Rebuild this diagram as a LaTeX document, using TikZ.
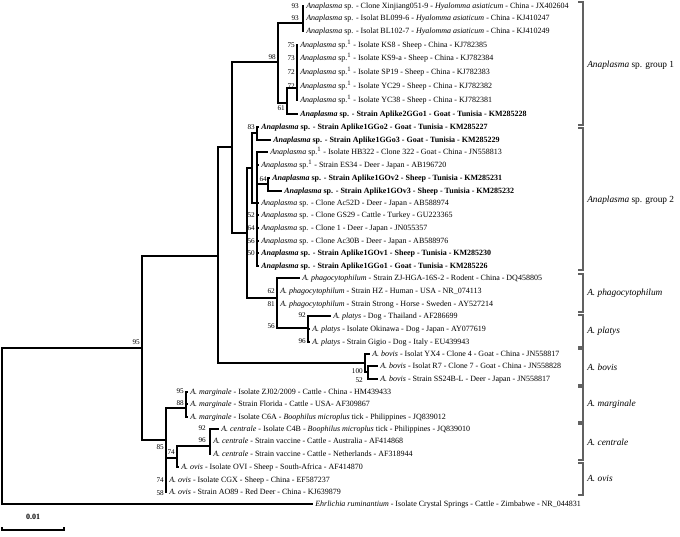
\documentclass[tikz,border=0pt]{standalone}
\usepackage{fontspec}
\setmainfont{Liberation Serif}
\newcommand\taxfont{\fontsize{6.0}{7}\selectfont}
\newcommand\bootfont{\fontsize{5.4}{6}\selectfont}
\newcommand\Ana{\textit{Anaplasma} sp.}
\newcommand\AnaS{\textit{Anaplasma} sp.\textsuperscript{1}}
\newcommand\AnaB{\textbf{\textit{Anaplasma} sp.}}
\tikzset{
  taxon/.style={anchor=west, inner xsep=1.5pt, inner ysep=0pt,
                text height=4.4pt, text depth=0.8pt, font=\taxfont},
  boot/.style={anchor=east, inner sep=0pt, text height=3.8pt,
               text depth=0pt, font=\bootfont},
  branch/.style={line width=0.9pt, draw=black},
  cladebar/.style={line width=1pt, draw=black!62},
  cladename/.style={anchor=west, inner sep=0pt,
                    font=\fontsize{7.0}{8}\selectfont}
}

\begin{document}
\begin{tikzpicture}[x=0.75pt, y=-0.75pt]
  \useasboundingbox (0,0) rectangle (680,536);

  % internal nodes
  \coordinate (r)   at (2,426);
  \coordinate (n95) at (142,348);
  \coordinate (nA)  at (218,256);
  \coordinate (nB)  at (232,147);
  \coordinate (g1)  at (278,62);
  \coordinate (n93) at (303,23);
  \coordinate (n61) at (287,103);
  \coordinate (ks)  at (297,88);
  \coordinate (nC)  at (247,233);
  \coordinate (g2)  at (252,168);
  \coordinate (n83) at (257,133);
  \coordinate (nR)  at (257,203);
  \coordinate (n64) at (268,184);
  \coordinate (P)   at (277,298);
  \coordinate (pl)  at (308,328);
  \coordinate (b1)  at (365,363);
  \coordinate (b2)  at (368,372);
  \coordinate (n85) at (166,440);
  \coordinate (mg)  at (186,408);
  \coordinate (n74) at (177,458);
  \coordinate (ce)  at (210,446);

  % taxa
  \node[taxon] (xinj)  at (304,6)   {\Ana{} - Clone Xinjiang051-9 - \textit{Hyalomma asiaticum} - China - JX402604};
  \node[taxon] (bl099) at (304,18)  {\Ana{} - Isolat BL099-6 - \textit{Hyalomma asiaticum} - China - KJ410247};
  \node[taxon] (bl102) at (304,31)  {\Ana{} - Isolat BL102-7 - \textit{Hyalomma asiaticum} - China - KJ410249};
  \node[taxon] (ks8)   at (298,45)  {\AnaS{} - Isolate KS8 - Sheep - China - KJ782385};
  \node[taxon] (ks9)   at (298,58)  {\AnaS{} - Isolate KS9-a - Sheep - China - KJ782384};
  \node[taxon] (sp19)  at (298,72)  {\AnaS{} - Isolate SP19 - Sheep - China - KJ782383};
  \node[taxon] (yc29)  at (298,86)  {\AnaS{} - Isolate YC29 - Sheep - China - KJ782382};
  \node[taxon] (yc38)  at (298,100) {\AnaS{} - Isolate YC38 - Sheep - China - KJ782381};
  \node[taxon] (agg1)  at (298,114) {\AnaB{} \textbf{- Strain Aplike2GGo1 - Goat - Tunisia - KM285228}};
  \node[taxon] (ggo2)  at (259,127) {\AnaB{} \textbf{- Strain Aplike1GGo2 - Goat - Tunisia - KM285227}};
  \node[taxon] (ggo3)  at (271,140) {\AnaB{} \textbf{- Strain Aplike1GGo3 - Goat - Tunisia - KM285229}};
  \node[taxon] (hb322) at (268,152) {\AnaS{} - Isolate HB322 - Clone 322 - Goat - China - JN558813};
  \node[taxon] (es34)  at (259,165) {\AnaS{} - Strain ES34 - Deer - Japan - AB196720};
  \node[taxon] (gov2)  at (270,178) {\AnaB{} \textbf{- Strain Aplike1GOv2 - Sheep - Tunisia - KM285231}};
  \node[taxon] (gov3)  at (282,191) {\AnaB{} \textbf{- Strain Aplike1GOv3 - Sheep - Tunisia - KM285232}};
  \node[taxon] (ac52)  at (259,203) {\Ana{} - Clone Ac52D - Deer - Japan - AB588974};
  \node[taxon] (gs29)  at (259,215) {\Ana{} - Clone GS29 - Cattle - Turkey - GU223365};
  \node[taxon] (cl1)   at (259,228) {\Ana{} - Clone 1 - Deer - Japan - JN055357};
  \node[taxon] (ac30)  at (259,241) {\Ana{} - Clone Ac30B - Deer - Japan - AB588976};
  \node[taxon] (gov1)  at (259,253) {\AnaB{} \textbf{- Strain Aplike1GOv1 - Sheep - Tunisia - KM285230}};
  \node[taxon] (ggo1)  at (259,266) {\AnaB{} \textbf{- Strain Aplike1GGo1 - Goat - Tunisia - KM285226}};
  \node[taxon] (zjhga) at (300,278) {\textit{A. phagocytophilum} - Strain ZJ-HGA-16S-2 - Rodent - China - DQ458805};
  \node[taxon] (hz)    at (278,291) {\textit{A. phagocytophilum} - Strain HZ - Human - USA - NR\_074113};
  \node[taxon] (strng) at (278,304) {\textit{A. phagocytophilum} - Strain Strong - Horse - Sweden - AY527214};
  \node[taxon] (thai)  at (331,316) {\textit{A. platys} - Dog - Thailand - AF286699};
  \node[taxon] (okin)  at (310,329) {\textit{A. platys} - Isolate Okinawa - Dog - Japan - AY077619};
  \node[taxon] (gigio) at (310,342) {\textit{A. platys} - Strain Gigio - Dog - Italy - EU439943};
  \node[taxon] (yx4)   at (370,354) {\textit{A. bovis} - Isolat YX4 - Clone 4 - Goat - China - JN558817};
  \node[taxon] (r7)    at (378,366) {\textit{A. bovis} - Isolat R7 - Clone 7 - Goat - China - JN558828};
  \node[taxon] (ss24)  at (378,379) {\textit{A. bovis} - Strain SS24B-L - Deer - Japan - JN558817};
  \node[taxon] (zj02)  at (188,392) {\textit{A. marginale} - Isolate ZJ02/2009 - Cattle - China - HM439433};
  \node[taxon] (flor)  at (188,404) {\textit{A. marginale} - Strain Florida - Cattle - USA- AF309867};
  \node[taxon] (c6a)   at (188,417) {\textit{A. marginale} - Isolate C6A - \textit{Boophilus microplus} tick - Philippines - JQ839012};
  \node[taxon] (c4b)   at (219,429) {\textit{A. centrale} - Isolate C4B - \textit{Boophilus microplus} tick - Philippines - JQ839010};
  \node[taxon] (aus)   at (211,441) {\textit{A. centrale} - Strain vaccine - Cattle - Australia - AF414868};
  \node[taxon] (neth)  at (211,454) {\textit{A. centrale} - Strain vaccine - Cattle - Netherlands - AF318944};
  \node[taxon] (ovi)   at (179,467) {\textit{A. ovis} - Isolate OVI - Sheep - South-Africa - AF414870};
  \node[taxon] (cgx)   at (167,480) {\textit{A. ovis} - Isolate CGX - Sheep - China - EF587237};
  \node[taxon] (ao89)  at (167,492) {\textit{A. ovis} - Strain AO89 - Red Deer - China - KJ639879};
  \node[taxon] (ehr)   at (313,504) {\textit{Ehrlichia ruminantium} - Isolate Crystal Springs - Cattle - Zimbabwe - NR\_044831};

  % branches
  \draw[branch] (r) |- (n95) (r) |- (ehr.west);
  \draw[branch] (n95) |- (nA) (n95) |- (n85);
  \draw[branch] (nA) |- (nB) (nA) |- (b1);
  \draw[branch] (nB) |- (g1) (nB) |- (nC);
  \draw[branch] (g1) |- (n93) (g1) |- (n61);
  \draw[branch] (n93) |- (xinj.west) (n93) |- (bl099.west) (n93) |- (bl102.west);
  \draw[branch] (n61) |- (ks) (n61) |- (agg1.west);
  \draw[branch] (ks) |- (ks8.west) (ks) |- (ks9.west) (ks) |- (sp19.west)
                (ks) |- (yc29.west) (ks) |- (yc38.west);
  \draw[branch] (nC) |- (g2) (nC) |- (P);
  \draw[branch] (g2) |- (n83) (g2) |- (nR);
  \draw[branch] (n83) |- (ggo2.west) (n83) |- (ggo3.west);
  \draw[branch] (nR) |- (hb322.west) (nR) |- (es34.west) (nR) |- (n64)
                (nR) |- (ac52.west) (nR) |- (gs29.west) (nR) |- (cl1.west)
                (nR) |- (ac30.west) (nR) |- (gov1.west) (nR) |- (ggo1.west);
  \draw[branch] (n64) |- (gov2.west) (n64) |- (gov3.west);
  \draw[branch] (P) |- (zjhga.west) (P) |- (hz.west) (P) |- (strng.west) (P) |- (pl);
  \draw[branch] (pl) |- (thai.west) (pl) |- (okin.west) (pl) |- (gigio.west);
  \draw[branch] (b1) |- (yx4.west) (b1) |- (b2);
  \draw[branch] (b2) |- (r7.west) (b2) |- (ss24.west);
  \draw[branch] (n85) |- (mg) (n85) |- (n74) (n85) |- (cgx.west) (n85) |- (ao89.west);
  \draw[branch] (mg) |- (zj02.west) (mg) |- (flor.west) (mg) |- (c6a.west);
  \draw[branch] (n74) |- (ce) (n74) |- (ovi.west);
  \draw[branch] (ce) |- (c4b.west) (ce) |- (aus.west) (ce) |- (neth.west);

  % bootstrap values
  \node[boot] (bs95)  at (140,342) {95};
  \node[boot] (bs98)  at (276,57)  {98};
  \node[boot] (bs93a) at (299,6)   {93};
  \node[boot] (bs93b) at (299,18)  {93};
  \node[boot] (bs75)  at (295,45)  {75};
  \node[boot] (bs73)  at (295,58)  {73};
  \node[boot] (bs72a) at (295,72)  {72};
  \node[boot] (bs72b) at (295,86)  {72};
  \node[boot] (bs61)  at (285,108) {61};
  \node[boot] (bs83)  at (255,127) {83};
  \node[boot] (bs64a) at (267,179) {64};
  \node[boot] (bs52a) at (255,215) {52};
  \node[boot] (bs64b) at (255,228) {64};
  \node[boot] (bs56a) at (255,241) {56};
  \node[boot] (bs50)  at (255,253) {50};
  \node[boot] (bs62)  at (275,291) {62};
  \node[boot] (bs81)  at (275,304) {81};
  \node[boot] (bs56b) at (275,326) {56};
  \node[boot] (bs92a) at (306,315) {92};
  \node[boot] (bs96a) at (306,341) {96};
  \node[boot] (bs100) at (363,371) {100};
  \node[boot] (bs52b) at (363,380) {52};
  \node[boot] (bs85)  at (164,447) {85};
  \node[boot] (bs95b) at (184,391) {95};
  \node[boot] (bs88)  at (184,403) {88};
  \node[boot] (bs74a) at (175,452) {74};
  \node[boot] (bs92b) at (206,428) {92};
  \node[boot] (bs96b) at (206,440) {96};
  \node[boot] (bs74b) at (164,480) {74};
  \node[boot] (bs58)  at (164,493) {58};

  % clade brackets
  \draw[cladebar] (578,2)   -- (583,2)   -- (583,125) -- (578,125);
  \draw[cladebar] (578,128) -- (583,128) -- (583,270) -- (578,270);
  \draw[cladebar] (578,274) -- (583,274) -- (583,312) -- (578,312);
  \draw[cladebar] (578,315) -- (583,315) -- (583,347) -- (578,347);
  \draw[cladebar] (578,349) -- (583,349) -- (583,385) -- (578,385);
  \draw[cladebar] (578,387) -- (583,387) -- (583,422) -- (578,422);
  \draw[cladebar] (578,424) -- (583,424) -- (583,460) -- (578,460);
  \draw[cladebar] (578,463) -- (583,463) -- (583,495) -- (578,495);
  \node[cladename] (grp1)  at (587,65)  {\textit{Anaplasma} sp. group 1};
  \node[cladename] (grp2)  at (587,200) {\textit{Anaplasma} sp. group 2};
  \node[cladename] (phago) at (587,293) {\textit{A. phagocytophilum}};
  \node[cladename] (platy) at (587,331) {\textit{A. platys}};
  \node[cladename] (bovis) at (587,367) {\textit{A. bovis}};
  \node[cladename] (margi) at (587,404) {\textit{A. marginale}};
  \node[cladename] (centr) at (587,442) {\textit{A. centrale}};
  \node[cladename] (ovis)  at (587,478) {\textit{A. ovis}};

  % scale bar
  \coordinate (sbL) at (2,530);
  \coordinate (sbR) at (64,530);
  \draw[branch] (sbL) ++(0,-3) -- (sbL) -- (sbR) -- ++(0,-3);
  \node[font=\taxfont\bfseries, inner sep=0pt] (sbtext) at (33,517) {0.01};
\end{tikzpicture}
\end{document}
